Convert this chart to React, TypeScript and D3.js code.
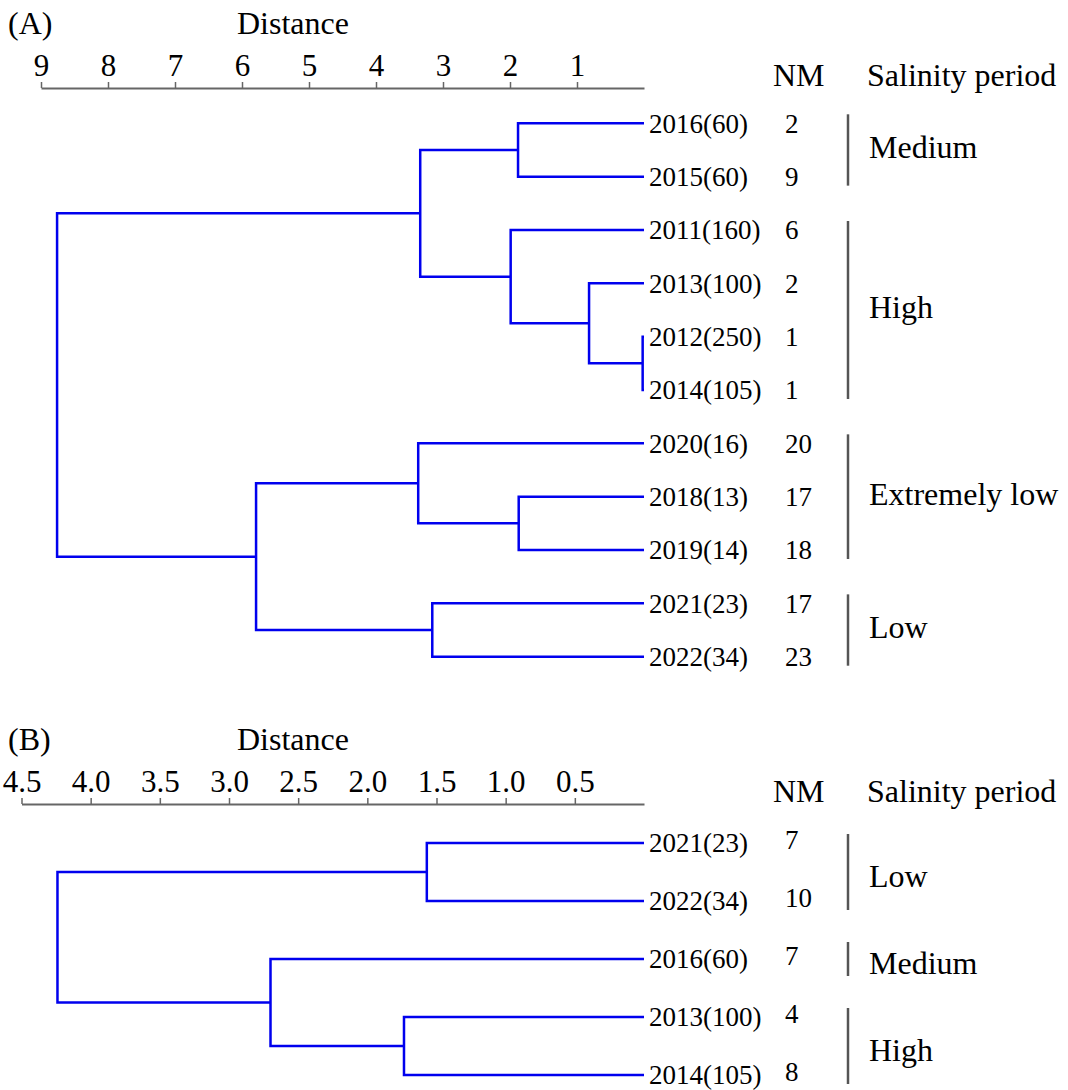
import React, { useEffect, useRef } from "react";
import * as d3 from "d3";

// ---- panel A data ----
const leavesA = ["2016(60)", "2015(60)", "2011(160)", "2013(100)", "2012(250)", "2014(105)", "2020(16)", "2018(13)", "2019(14)", "2021(23)", "2022(34)"];
const nmA = [2, 9, 6, 2, 1, 1, 20, 17, 18, 17, 23];
// each merge: [left id, right id, distance]; ids >= leaves.length are earlier merges
const mergesA = [
  [4, 5, 0.02],
  [3, 11, 0.82],
  [7, 8, 1.87],
  [0, 1, 1.88],
  [2, 12, 1.99],
  [9, 10, 3.16],
  [14, 15, 3.34],
  [6, 13, 3.37],
  [18, 16, 5.79],
  [17, 19, 8.76],
];
const ticksA = [9, 8, 7, 6, 5, 4, 3, 2, 1];
const groupsA = ["Medium", "High", "Extremely low", "Low"];
const groupFirstA = [0, 2, 6, 9];
const groupLastA = [1, 5, 8, 10];

// ---- panel B data ----
const leavesB = ["2021(23)", "2022(34)", "2016(60)", "2013(100)", "2014(105)"];
const nmB = [7, 10, 7, 4, 8];
const mergesB = [
  [0, 1, 1.57],
  [3, 4, 1.735],
  [2, 6, 2.7],
  [5, 7, 4.24],
];
const ticksB = [4.5, 4.0, 3.5, 3.0, 2.5, 2.0, 1.5, 1.0, 0.5];
const groupsB = ["Low", "Medium", "High"];
const groupFirstB = [0, 2, 3];
const groupLastB = [1, 2, 4];

const width = 1068;
const height = 1090;
const serif = "'Liberation Serif', 'Times New Roman', Times, serif";
const blue = "#0000ee";
const grey = "#666";

function drawPanel(svg, p) {
  const g = svg.append("g");

  const x = d3.scaleLinear().domain([p.maxDist, 0]).range([p.xLeft, 644]);
  const y = d3
    .scalePoint()
    .domain(d3.range(p.leaves.length))
    .range([p.leafTop, p.leafBottom]);

  // titles
  g.append("text")
    .attr("x", 8)
    .attr("y", p.axisY - 54)
    .attr("font-size", 32)
    .text(p.tag);
  g.append("text")
    .attr("x", 237)
    .attr("y", p.axisY - 54)
    .attr("font-size", 32)
    .text("Distance");
  g.append("text")
    .attr("x", 773)
    .attr("y", p.axisY - 2)
    .attr("font-size", 32)
    .text("NM");
  g.append("text")
    .attr("x", 867)
    .attr("y", p.axisY - 2)
    .attr("font-size", 32)
    .text("Salinity period");

  // distance axis on top
  const axis = d3
    .axisTop(x)
    .tickValues(p.ticks)
    .tickFormat(p.fmt)
    .tickSize(6)
    .tickSizeOuter(0)
    .tickPadding(6);
  const ax = g
    .append("g")
    .attr("transform", `translate(0,${p.axisY})`)
    .call(axis);
  ax.select(".domain").attr("stroke", grey).attr("stroke-width", 2);
  ax.selectAll(".tick line").attr("stroke", grey).attr("stroke-width", 1.5);
  ax.selectAll(".tick text")
    .attr("fill", "#000")
    .attr("font-family", serif)
    .attr("font-size", 31);

  // node positions
  const n = p.leaves.length;
  const xs = p.leaves.map(() => x(0));
  const ys = p.leaves.map((d, i) => y(i));
  p.merges.forEach(([a, b, h]) => {
    xs.push(x(h));
    ys.push((ys[a] + ys[b]) / 2);
  });

  g.append("g")
    .selectAll("path")
    .data(p.merges)
    .join("path")
    .attr("fill", "none")
    .attr("stroke", blue)
    .attr("stroke-width", 2.5)
    .attr("d", (d, k) => {
      const id = n + k;
      const [a, b] = d;
      return `M${xs[a]},${ys[a]}H${xs[id]}V${ys[b]}H${xs[b]}`;
    });

  // leaf labels + NM
  g.append("g")
    .selectAll("text")
    .data(p.leaves)
    .join("text")
    .attr("x", x(0) + 5)
    .attr("y", (d, i) => y(i))
    .attr("dy", "0.35em")
    .attr("font-size", 27)
    .text((d) => d);

  g.append("g")
    .selectAll("text")
    .data(p.nm)
    .join("text")
    .attr("x", 785)
    .attr("y", (d, i) => y(i) + p.nmShift)
    .attr("dy", "0.35em")
    .attr("font-size", 27)
    .text((d) => d);

  // salinity groups
  const grp = g
    .append("g")
    .selectAll("g")
    .data(p.groups)
    .join("g");
  grp
    .append("line")
    .attr("x1", 848)
    .attr("x2", 848)
    .attr("y1", (d, i) => y(p.first[i]) - (p.first[i] === p.last[i] ? 17 : 9))
    .attr("y2", (d, i) => y(p.last[i]) + (p.first[i] === p.last[i] ? 17 : 9))
    .attr("stroke", "#555")
    .attr("stroke-width", 2.5);
  grp
    .append("text")
    .attr("x", 869)
    .attr("y", (d, i) => (y(p.first[i]) + y(p.last[i])) / 2 + p.labelShift)
    .attr("font-size", 32)
    .text((d) => d);
}

const App = () => {
  const svgRef = useRef(null);

  useEffect(() => {
    const svg = d3.select(svgRef.current);
    svg.selectAll("*").remove();
    svg.attr("font-family", serif).attr("fill", "#000");

    drawPanel(svg, {
      tag: "(A)",
      leaves: leavesA,
      nm: nmA,
      merges: mergesA,
      ticks: ticksA,
      fmt: d3.format("d"),
      groups: groupsA,
      first: groupFirstA,
      last: groupLastA,
      maxDist: 9,
      xLeft: 41,
      axisY: 88,
      leafTop: 123.3,
      leafBottom: 656.7,
      nmShift: 0,
      labelShift: 8,
    });

    drawPanel(svg, {
      tag: "(B)",
      leaves: leavesB,
      nm: nmB,
      merges: mergesB,
      ticks: ticksB,
      fmt: d3.format(".1f"),
      groups: groupsB,
      first: groupFirstB,
      last: groupLastB,
      maxDist: 4.5,
      xLeft: 21.5,
      axisY: 804,
      leafTop: 843,
      leafBottom: 1075,
      nmShift: -3,
      labelShift: 15,
    });
  }, []);

  return (
    <svg
      ref={svgRef}
      width={width}
      height={height}
      style={{ position: "absolute", left: 0, top: 0, background: "#fff" }}
    ></svg>
  );
};

export default App;
